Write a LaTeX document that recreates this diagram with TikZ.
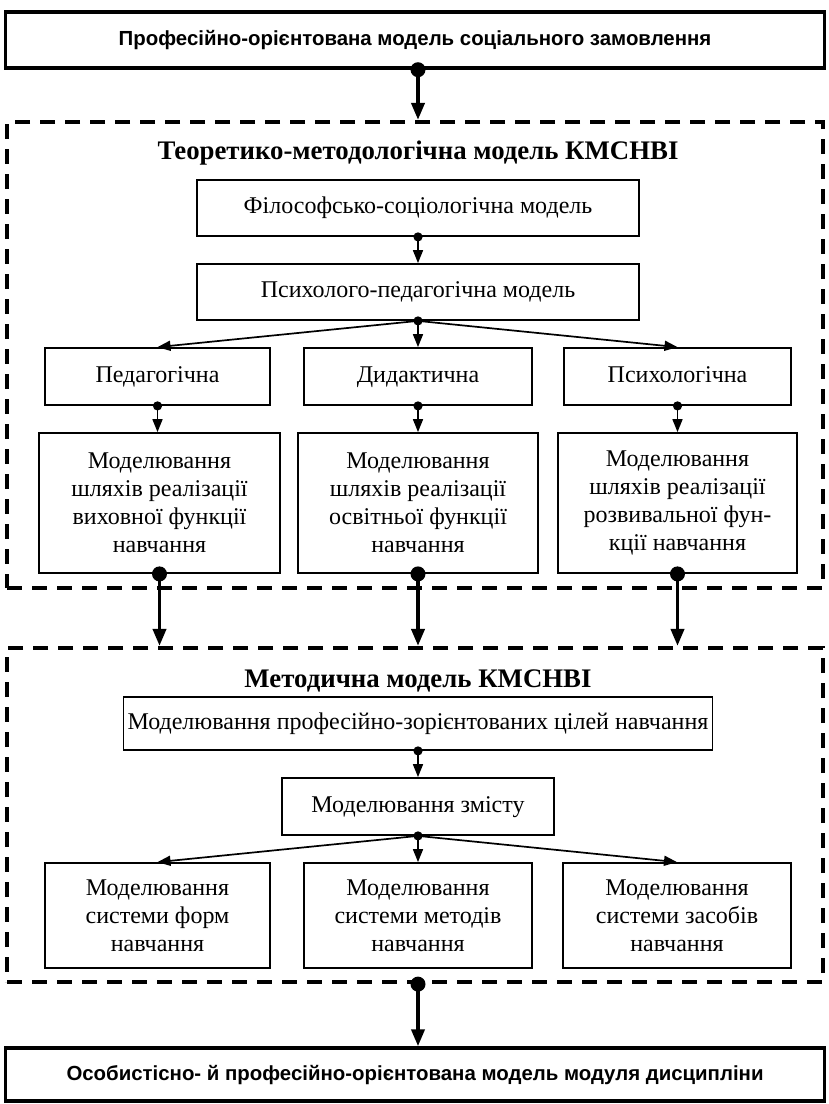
\documentclass[tikz,border=0pt]{standalone}
\usepackage{fontspec}
\setmainfont{Liberation Serif}
\newfontfamily\arialfont{Liberation Sans}
\usetikzlibrary{arrows.meta,positioning}

\begin{document}
\begin{tikzpicture}[x=0.5pt, y=-0.5pt,
    every node/.style={font=\fontsize{12}{14}\selectfont},
    plainbox/.style={draw, line width=0.9pt, align=center, inner sep=2pt},
    onebox/.style={plainbox, text height=8.5pt, text depth=3pt},
    mainbox/.style={draw, line width=1.7pt, minimum width=409.5pt, text height=8pt, text depth=2.5pt, font=\arialfont\bfseries\fontsize{10.2}{12}\selectfont},
    dashframe/.style={draw, line width=2.1pt, dash pattern=on 7.5pt off 5pt, minimum width=408pt},
    frametitle/.style={font=\bfseries\fontsize{13.4}{15}\selectfont},
    link/.style={-{Triangle[length=6.5pt,width=5pt]}, line width=0.85pt},
    biglink/.style={-{Triangle[length=8.5pt,width=6.5pt]}, line width=1.9pt}]
      \useasboundingbox (0,0) rectangle (829,1104);

      % Top model
      \node[mainbox, minimum height=28pt] (social) at (415,40) {Професійно-орієнтована модель соціального замовлення};

      % Theoretical frame
      \node[dashframe, minimum height=233pt] (theory) at (415,355) {};
      \node[frametitle] (theorytitle) at (418,153) {Теоретико-методологічна модель КМСНВІ};

      \node[onebox, minimum width=221pt, minimum height=28pt] (philo) at (418,208) {Філософсько-соціологічна модель};
      \node[onebox, minimum width=221pt, minimum height=28pt] (psyped) at (418,292) {Психолого-педагогічна модель};

      \node[onebox, minimum width=112.5pt, minimum height=28.5pt] (ped) at (157.5,376.5) {Педагогічна};
      \node[onebox, minimum width=114pt, minimum height=28.5pt] (did) at (418,376.5) {Дидактична};
      \node[onebox, minimum width=113.5pt, minimum height=28.5pt] (psy) at (677.5,376.5) {Психологічна};

      \node[plainbox, minimum width=120.5pt, minimum height=70pt] (mped) at (159.5,503) {Моделювання\\шляхів реалізації\\виховної функції\\навчання};
      \node[plainbox, minimum width=120pt, minimum height=70pt] (mdid) at (418,503) {Моделювання\\шляхів реалізації\\освітньої функції\\навчання};
      \node[plainbox, minimum width=119.5pt, minimum height=70pt] (mpsy) at (677.5,503) {Моделювання\\шляхів реалізації\\розвивальної фун-\\кції навчання};

      % Methodical frame
      \node[dashframe, minimum height=167pt] (method) at (415,815) {};
      \node[frametitle] (methodtitle) at (418,681) {Методична модель КМСНВІ};

      \node[onebox, minimum width=293pt, minimum height=26.5pt] (goals) at (418,723.5) {Моделювання професійно-зорієнтованих цілей навчання};
      \node[onebox, minimum width=136pt, minimum height=28.5pt] (content) at (418,806.5) {Моделювання змісту};

      \node[plainbox, minimum width=112.5pt, minimum height=52.5pt] (forms) at (157.5,915.5) {Моделювання\\системи форм\\навчання};
      \node[plainbox, minimum width=114pt, minimum height=52.5pt] (methods) at (418,915.5) {Моделювання\\системи методів\\навчання};
      \node[plainbox, minimum width=114pt, minimum height=52.5pt] (means) at (677,915.5) {Моделювання\\системи засобів\\навчання};

      % Bottom model
      \node[mainbox, minimum height=26.5pt] (personal) at (415,1074.5) {Особистісно- й професійно-орієнтована модель модуля дисципліни};

      % Arrows
      \draw[biglink] (social.south -| theorytitle) -- (theory.north -| theorytitle);
      \draw[link] (philo.south) -- (psyped.north);
      \draw[link] (psyped.south) -- (ped.north);
      \draw[link] (psyped.south) -- (did.north);
      \draw[link] (psyped.south) -- (psy.north);
      \draw[link] (ped.south) -- (ped.south |- mped.north);
      \draw[link] (did.south) -- (mdid.north);
      \draw[link] (psy.south) -- (psy.south |- mpsy.north);
      \draw[biglink] (mped.south) -- (mped.south |- method.north);
      \draw[biglink] (mdid.south) -- (mdid.south |- method.north);
      \draw[biglink] (mpsy.south) -- (mpsy.south |- method.north);
      \draw[link] (goals.south) -- (content.north);
      \draw[link] (content.south) -- (forms.north);
      \draw[link] (content.south) -- (methods.north);
      \draw[link] (content.south) -- (means.north);
      \draw[biglink] (method.south -| methodtitle) -- (personal.north -| methodtitle);

      % Dots
      \fill (social.south -| theorytitle) circle (3.75pt);
      \foreach \n in {philo,psyped,ped,did,psy,goals,content}
        \fill (\n.south) circle (2.3pt);
      \foreach \n in {mped,mdid,mpsy}
        \fill (\n.south) circle (3.75pt);
      \fill (method.south -| methodtitle) circle (3.75pt);
    \end{tikzpicture}
\end{document}
